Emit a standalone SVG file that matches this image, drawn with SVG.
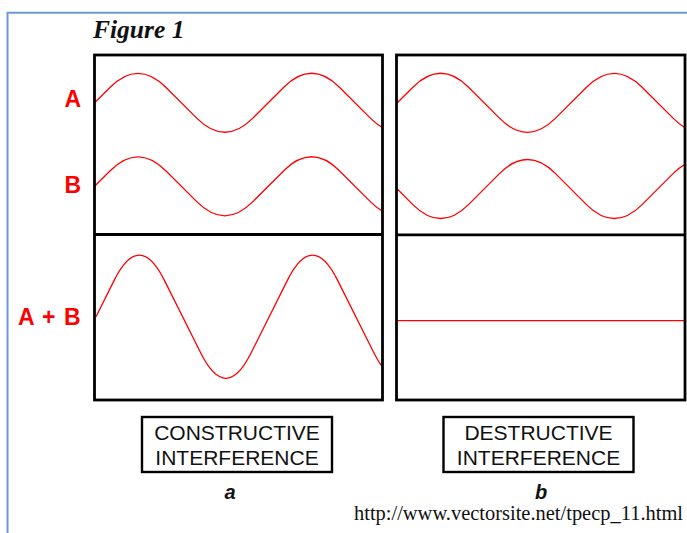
<svg xmlns="http://www.w3.org/2000/svg" width="687" height="533" viewBox="0 0 687 533">
<style>
.frame{fill:none;stroke:#000;stroke-width:2.8}
.wave{fill:none;stroke:#ff0000;stroke-width:1.3;stroke-linejoin:round}
.lbl{font-family:"Liberation Sans",Arial,sans-serif;font-weight:bold;font-size:23px;fill:#ff0000}
.box{fill:#fff;stroke:#000;stroke-width:2.4}
.boxt{font-family:"Liberation Sans",Arial,sans-serif;font-size:21px;fill:#111;text-anchor:middle}
.sub{font-family:"Liberation Sans",Arial,sans-serif;font-size:20px;font-weight:bold;font-style:italic;fill:#111;text-anchor:middle}
</style>
<defs>
<clipPath id="clipL"><rect x="94.5" y="55" width="288" height="345"/></clipPath>
<clipPath id="clipR"><rect x="396.5" y="55" width="288.5" height="345"/></clipPath>
</defs>
<rect width="687" height="533" fill="#fff"/>
<g id="border">
<path d="M7.5,533 V12.7 H687" fill="none" stroke="#6d9ad6" stroke-width="2"/>
</g>
<g id="title">
<text x="93" y="37.5" font-family="'Liberation Serif','Times New Roman',serif" font-weight="bold" font-style="italic" font-size="25.5" fill="#111">Figure 1</text>
</g>
<g id="labels">
<text class="lbl" x="81" y="107.3" text-anchor="end">A</text>
<text class="lbl" x="81" y="193.3" text-anchor="end">B</text>
<text class="lbl" x="80.5" y="325" text-anchor="end" word-spacing="2">A + B</text>
</g>
<g id="panel-a">
<g clip-path="url(#clipL)">
<path class="wave" d="M94.6,102.8 l15.6,-15.6 q27.8,-27.8 55.6,0 l31.2,31.2 q27.8,27.8 55.6,0 l31.2,-31.2 q27.8,-27.8 55.6,0 l31.2,31.2 q27.8,27.8 55.6,0 l31.2,-31.2"/>
<path class="wave" d="M94.6,186.3 l15.6,-15.6 q27.8,-27.8 55.6,0 l31.2,31.2 q27.8,27.8 55.6,0 l31.2,-31.2 q27.8,-27.8 55.6,0 l31.2,31.2 q27.8,27.8 55.6,0 l31.2,-31.2"/>
<path class="wave" d="M96,316.7 l18.3,-36.6 q25,-50 50,0 l36.6,73.2 q25,50 50,0 l36.6,-73.2 q25,-50 50,0 l36.6,73.2 q25,50 50,0"/>
</g>
<rect class="frame" x="94.5" y="55" width="288" height="345"/>
<line class="frame" x1="94.5" y1="234.5" x2="382.5" y2="234.5"/>
</g>
<g id="panel-b">
<g clip-path="url(#clipR)">
<path class="wave" d="M397.3,102.8 l15.6,-15.6 q27.8,-27.8 55.6,0 l31.2,31.2 q27.8,27.8 55.6,0 l31.2,-31.2 q27.8,-27.8 55.6,0 l31.2,31.2 q27.8,27.8 55.6,0 l31.2,-31.2"/>
<path class="wave" d="M397.3,189 l15.6,15.6 q27.8,27.8 55.6,0 l31.2,-31.2 q27.8,-27.8 55.6,0 l31.2,31.2 q27.8,27.8 55.6,0 l31.2,-31.2 q27.8,-27.8 55.6,0 l31.2,31.2"/>
<line class="wave" x1="396" y1="320.7" x2="686" y2="320.7"/>
</g>
<rect class="frame" x="396.5" y="55" width="288.5" height="345"/>
<line class="frame" x1="396.5" y1="234.8" x2="685" y2="234.8"/>
</g>
<g id="box-constructive">
<rect class="box" x="142" y="417" width="190" height="55"/>
<text class="boxt" x="237" y="439.8">CONSTRUCTIVE</text>
<text class="boxt" x="237" y="464.8">INTERFERENCE</text>
</g>
<g id="box-destructive">
<rect class="box" x="443.5" y="417" width="190" height="55"/>
<text class="boxt" x="538.5" y="439.8">DESTRUCTIVE</text>
<text class="boxt" x="538.5" y="464.8">INTERFERENCE</text>
</g>
<g id="sublabels">
<text class="sub" x="230" y="499">a</text>
<text class="sub" x="541" y="499">b</text>
</g>
<g id="url">
<text x="354" y="520" font-family="'Liberation Serif','Times New Roman',serif" font-size="20" fill="#111" textLength="329" lengthAdjust="spacingAndGlyphs">http://www.vectorsite.net/tpecp_11.html</text>
</g>
</svg>
